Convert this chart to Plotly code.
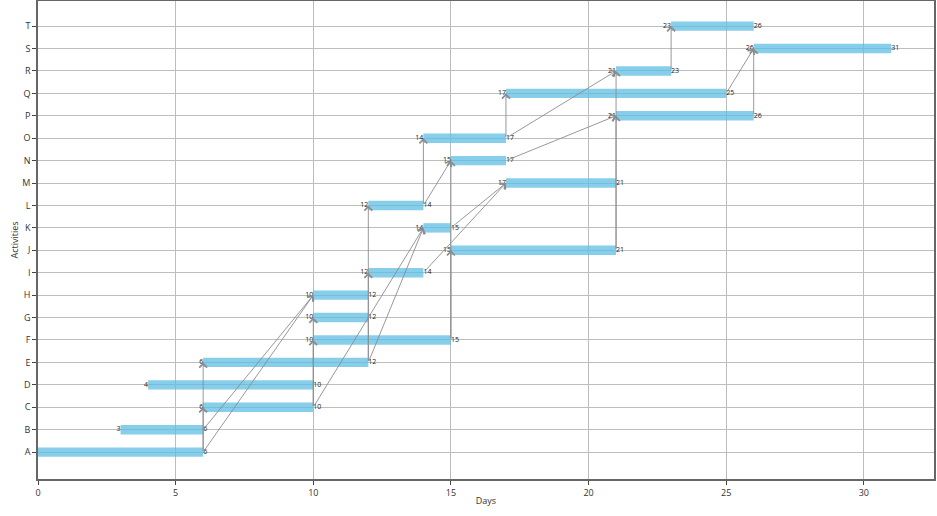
import plotly.graph_objects as go

activities = ["A", "B", "C", "D", "E", "F", "G", "H", "I", "J",
              "K", "L", "M", "N", "O", "P", "Q", "R", "S", "T"]
starts = [0, 3, 6, 4, 6, 10, 10, 10, 12, 15, 14, 12, 17, 15, 14, 21, 17, 21, 26, 23]
ends = [6, 6, 10, 10, 12, 15, 12, 12, 14, 21, 15, 14, 21, 17, 17, 26, 25, 23, 31, 26]
dependencies = [("A", "C"), ("A", "E"), ("A", "H"), ("B", "H"), ("C", "F"), ("C", "G"),
                ("C", "K"), ("E", "I"), ("E", "L"), ("E", "K"), ("I", "M"), ("K", "M"),
                ("L", "N"), ("L", "O"), ("F", "J"), ("F", "N"), ("O", "Q"), ("O", "R"),
                ("N", "P"), ("J", "P"), ("J", "R"), ("R", "T"), ("Q", "S"), ("P", "S")]

durations = [e - s for s, e in zip(starts, ends)]
FONT = "Open Sans, Noto Sans, sans-serif"

fig = go.Figure()
fig.add_trace(go.Bar(
    y=activities, x=durations, base=starts, orientation="h",
    marker=dict(color="#5FBEE4", line=dict(width=0)), opacity=0.75,
    width=0.42, showlegend=False, hoverinfo="skip"))

fig.add_trace(go.Scatter(
    x=starts, y=activities, mode="text", text=[str(v) for v in starts],
    textposition="middle left", textfont=dict(size=7, color="#222", family=FONT),
    showlegend=False, hoverinfo="skip"))
fig.add_trace(go.Scatter(
    x=ends, y=activities, mode="text", text=[str(v) for v in ends],
    textposition="middle right", textfont=dict(size=7, color="#222", family=FONT),
    showlegend=False, hoverinfo="skip"))

idx = {a: i for i, a in enumerate(activities)}
for p, s in dependencies:
    fig.add_annotation(
        x=starts[idx[s]], y=idx[s], ax=ends[idx[p]], ay=idx[p],
        xref="x", yref="y", axref="x", ayref="y", text="",
        showarrow=True, arrowhead=4, arrowsize=1.7, arrowwidth=0.9,
        arrowcolor="#8c8c8c", standoff=0, startstandoff=0)

fig.update_layout(
    width=937, height=516,
    margin=dict(l=38, r=3, t=1, b=37),
    plot_bgcolor="white", paper_bgcolor="white",
    font=dict(family=FONT, size=9, color="#333"),
    bargap=0.5,
)
fig.update_xaxes(
    range=[0, 32.55], tickvals=[0, 5, 10, 15, 20, 25, 30], automargin=False,
    showgrid=True, gridcolor="#bdbdbd", gridwidth=1,
    showline=True, mirror=True, linecolor="#666", linewidth=1.5,
    ticks="outside", ticklen=4, tickcolor="#444", zeroline=False,
    title=dict(text="Days", font=dict(size=9), standoff=0),
    tickfont=dict(size=9))
fig.update_yaxes(
    type="category", categoryorder="array", categoryarray=activities,
    range=[-1.2, 20.12], automargin=False,
    showgrid=True, gridcolor="#bdbdbd", gridwidth=1,
    showline=True, mirror=True, linecolor="#666", linewidth=1.5,
    ticks="outside", ticklen=4, tickcolor="#444", zeroline=False,
    title=dict(text="Activities", font=dict(size=9), standoff=2),
    tickfont=dict(size=9))

fig.write_html(
    "out.html",
    config={"displayModeBar": False},
    post_script="document.body.style.margin='0';document.body.style.overflow='hidden';",
)
